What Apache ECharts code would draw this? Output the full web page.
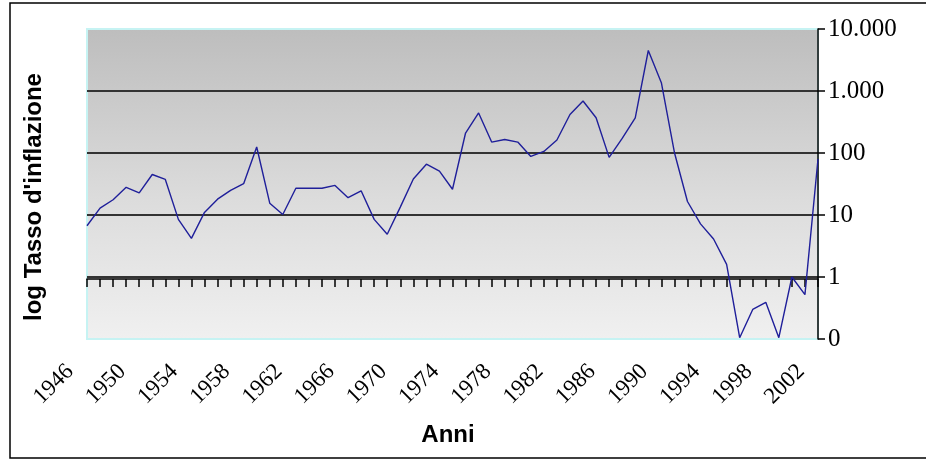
<!DOCTYPE html>
<html>
<head>
<meta charset="utf-8">
<script src="https://cdn.jsdelivr.net/npm/echarts@6/dist/echarts.min.js"></script>
<style>
  html, body { margin: 0; padding: 0; background: #fff; }
  #chart { width: 926px; height: 461px; }
</style>
</head>
<body>
<div id="chart"></div>
<script>
// Anni 1946–2002
const years = [];
for (let y = 1946; y <= 2002; y++) years.push(String(y));

// Tasso d'inflazione annuo (%), scala logaritmica
const inflation = [
  6.7, 12.9, 17.6, 28, 22.7, 45, 37.5, 8.5, 4.2, 11,
  18, 25, 32, 125, 15.5, 10.2, 27, 27, 27, 30,
  19, 24.6, 8.5, 4.9, 13.4, 38, 66, 51, 26, 210,
  442, 150, 165, 150, 88, 106, 162, 417, 690, 370,
  85, 172, 370, 4500, 1360, 102, 16.5, 7.2, 4.1, 1.6,
  0.105, 0.30, 0.39, 0.105, 1.0, 0.52, 80
];

// Limiti dell'asse logaritmico
const yMin = 0.1;
const yMax = 10000;

const chart = echarts.init(document.getElementById('chart'));

function fmtNum(v) {
  if (v < 1) return '0';
  return String(Math.round(v)).replace(/\B(?=(\d{3})+(?!\d))/g, '.');
}

chart.setOption({
  animation: false,
  grid: {
    left: 87, right: 108, top: 29, bottom: 122,
    show: true,
    borderColor: '#c6f3f3',
    borderWidth: 2,
    backgroundColor: {
      type: 'linear', x: 0, y: 0, x2: 0, y2: 1,
      colorStops: [
        { offset: 0, color: '#bdbdbd' },
        { offset: 0.55, color: '#dcdcdc' },
        { offset: 1, color: '#f0f0f0' }
      ]
    }
  },
  xAxis: [
    {
      type: 'category',
      data: years,
      boundaryGap: false,
      position: 'bottom',
      axisLine: { show: false },
      axisTick: { show: false },
      splitLine: { show: false },
      axisLabel: {
        interval: 3,
        rotate: 45,
        margin: 12,
        padding: [0, 24, 0, 0],
        fontFamily: '"Liberation Serif", "Times New Roman", serif',
        fontSize: 23,
        color: '#000'
      }
    },
    {
      // asse che incrocia l'asse y al valore 1
      type: 'category',
      data: years,
      boundaryGap: false,
      position: 'top',
      offset: -250,
      axisLine: { show: true, lineStyle: { color: '#000', width: 1.5 } },
      axisTick: { show: true, inside: true, length: 8, interval: 0, lineStyle: { color: '#000', width: 1.5 } },
      axisLabel: { show: false },
      splitLine: { show: false }
    }
  ],
  yAxis: {
    type: 'log',
    logBase: 10,
    min: yMin,
    max: yMax,
    position: 'right',
    axisLine: { show: true, lineStyle: { color: '#000', width: 1.5 } },
    axisTick: { show: true, length: 7, lineStyle: { color: '#000', width: 1.5 } },
    splitLine: {
      show: true,
      showMinLine: false,
      showMaxLine: false,
      lineStyle: { color: '#333', width: 2 }
    },
    axisLabel: {
      margin: 10,
      formatter: fmtNum,
      fontFamily: '"Liberation Serif", "Times New Roman", serif',
      fontSize: 25,
      color: '#000'
    }
  },
  series: [{
    type: 'line',
    data: inflation,
    xAxisIndex: 0,
    symbol: 'none',
    lineStyle: { color: '#1f1f9a', width: 1.4 },
    z: 5
  }],
  graphic: [
    {
      type: 'rect',
      shape: { x: 10, y: 3, width: 930, height: 455 },
      style: { fill: 'none', stroke: '#000', lineWidth: 1.5 },
      silent: true
    },
    {
      type: 'text',
      x: 34, y: 197,
      rotation: Math.PI / 2,
      style: {
        text: "log Tasso d'inflazione",
        font: 'bold 24px "Liberation Sans", Arial, sans-serif',
        fill: '#000',
        align: 'center',
        verticalAlign: 'middle'
      }
    },
    {
      type: 'text',
      x: 448, y: 435,
      style: {
        text: 'Anni',
        font: 'bold 24px "Liberation Sans", Arial, sans-serif',
        fill: '#000',
        align: 'center',
        verticalAlign: 'middle'
      }
    }
  ]
});
</script>
</body>
</html>
